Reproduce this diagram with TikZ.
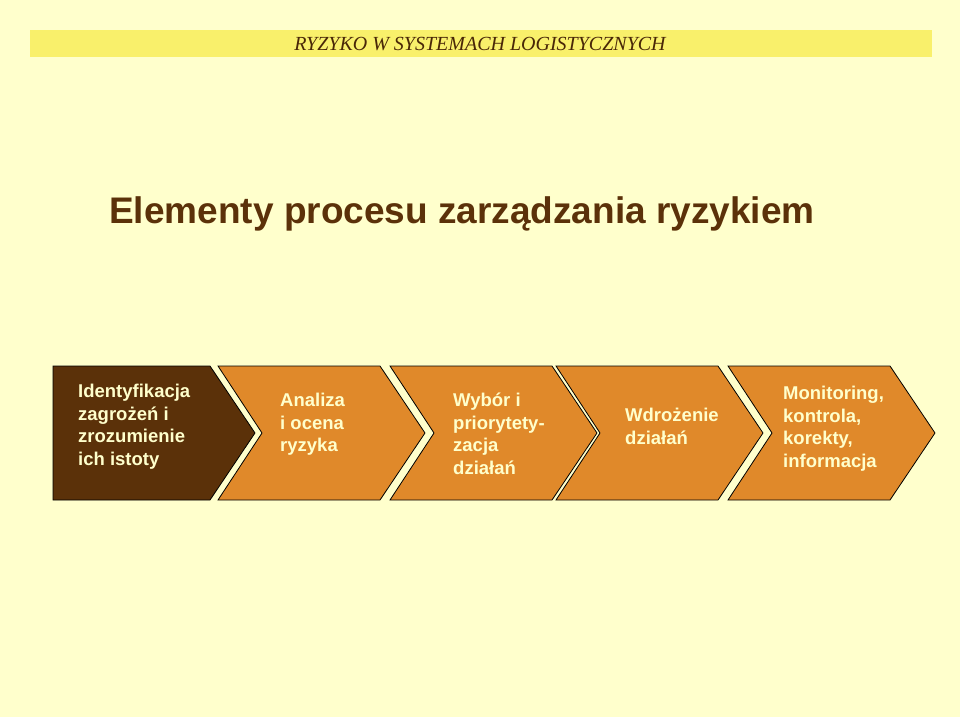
\documentclass[tikz,border=0pt]{standalone}
\usepackage{fontspec}
\setmainfont{Liberation Sans}
\newfontfamily\serifh{Liberation Serif}
\definecolor{bg}{HTML}{FFFFCC}
\definecolor{band}{HTML}{F9F06B}
\definecolor{dbrown}{HTML}{5B3109}
\definecolor{orng}{HTML}{E0892A}
\definecolor{txt}{HTML}{FFFFCC}
\begin{document}
\begin{tikzpicture}[x=1pt,y=-1pt,
  chev/.style={draw=black,line width=0.8pt,line join=miter},
  lbl/.style={anchor=north west,align=left,text=txt,font=\fontsize{18.5}{22.5}\selectfont\bfseries,inner sep=0pt}]
\useasboundingbox (0,0) rectangle (960,717);
\fill[bg] (0,0) rectangle (960,717);
\fill[band] (30,30) rectangle (932,57);
\node (hdr) at (480,44) {\serifh\itshape\fontsize{20}{24}\selectfont\color{dbrown!80!black}RYZYKO W SYSTEMACH LOGISTYCZNYCH};
\node (title) at (462,214) {\fontsize{37}{44}\selectfont\bfseries\color{dbrown}Elementy procesu zarządzania ryzykiem};
% chevrons
\fill[chev,fill=dbrown] (53,366) -- (210,366) -- (255,433) -- (210,500) -- (53,500) -- cycle;
\foreach \x/\n in {218/c2,390/c3,556/c4,728/c5}{
  \fill[chev,fill=orng] (\x,366) -- (\x+162,366) -- (\x+207,433) -- (\x+162,500) -- (\x,500) -- (\x+44,433) -- cycle;
}
\node[lbl] (t1) at (78,384) {Identyfikacja\\zagrożeń i\\zrozumienie\\ich istoty};
\node[lbl] (t2) at (280,393) {Analiza\\i ocena\\ryzyka};
\node[lbl] (t3) at (453,393) {Wybór i\\priorytety-\\zacja\\działań};
\node[lbl] (t4) at (625,408) {Wdrożenie\\działań};
\node[lbl] (t5) at (783,386) {Monitoring,\\kontrola,\\korekty,\\informacja};
\end{tikzpicture}
\end{document}
